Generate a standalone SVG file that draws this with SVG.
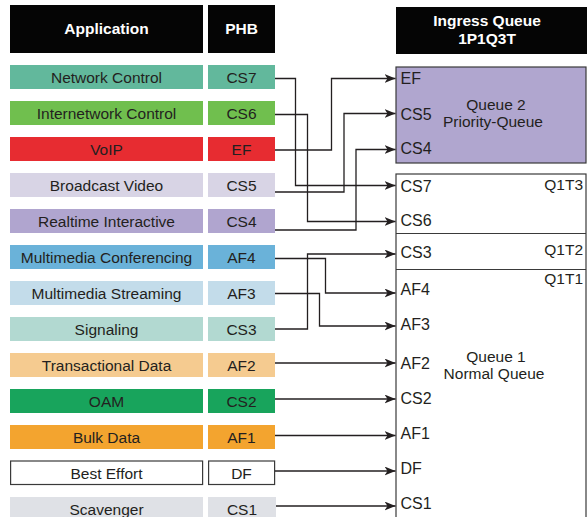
<svg xmlns="http://www.w3.org/2000/svg" width="588" height="517" viewBox="0 0 588 517">
  <style>
    text { font-family: "Liberation Sans", Arial, Helvetica, sans-serif; fill: #231f20; }
    .hdr { fill: #050505; }
    .hdrt { fill: #ffffff; font-weight: bold; font-size: 15.5px; text-anchor: middle; }
    .lbl { font-size: 15.5px; text-anchor: middle; }
    .ql { font-size: 16px; }
    .qr { font-size: 15.5px; text-anchor: end; }
    .qc { font-size: 15.5px; text-anchor: middle; }
    .box { stroke: #3a3a3a; stroke-width: 1.2; }
    .wire { fill: none; stroke: #231f20; stroke-width: 1.3; marker-end: url(#arrow); }
  </style>
  <defs>
    <marker id="arrow" markerUnits="userSpaceOnUse" markerWidth="11" markerHeight="9" viewBox="0 0 11 9" refX="11" refY="4.5" orient="auto">
      <path d="M0,0 L11,4.5 L0,9 L3,4.5 z" fill="#231f20"/>
    </marker>
  </defs>

  <rect width="588" height="517" fill="#ffffff"/>

  <!-- column headers -->
  <g id="hdr-application">
    <rect class="hdr" x="10" y="5" width="193" height="48"/>
    <text class="hdrt" x="106.5" y="34">Application</text>
  </g>
  <g id="hdr-phb">
    <rect class="hdr" x="208" y="5" width="67" height="48"/>
    <text class="hdrt" x="241.5" y="34">PHB</text>
  </g>
  <g id="hdr-ingress">
    <rect class="hdr" x="396" y="7" width="191" height="47"/>
    <text class="hdrt" x="487" y="26">Ingress Queue</text>
    <text class="hdrt" x="487" y="43.5">1P1Q3T</text>
  </g>

  <!-- application classes -->
  <g id="app-network-control"><rect x="10" y="65" width="193" height="24" fill="#62b89c"/><text class="lbl" x="106.5" y="82.5">Network Control</text></g>
  <g id="app-internetwork-control"><rect x="10" y="101" width="193" height="24" fill="#70bf4e"/><text class="lbl" x="106.5" y="118.5">Internetwork Control</text></g>
  <g id="app-voip"><rect x="10" y="137" width="193" height="24" fill="#e72c31"/><text class="lbl" x="106.5" y="154.5">VoIP</text></g>
  <g id="app-broadcast-video"><rect x="10" y="173" width="193" height="24" fill="#d8d4e5"/><text class="lbl" x="106.5" y="190.5">Broadcast Video</text></g>
  <g id="app-realtime-interactive"><rect x="10" y="209" width="193" height="24" fill="#b0a5cf"/><text class="lbl" x="106.5" y="226.5">Realtime Interactive</text></g>
  <g id="app-multimedia-conferencing"><rect x="10" y="245" width="193" height="24" fill="#6ab2d9"/><text class="lbl" x="106.5" y="262.5">Multimedia Conferencing</text></g>
  <g id="app-multimedia-streaming"><rect x="10" y="281" width="193" height="24" fill="#c3dcea"/><text class="lbl" x="106.5" y="298.5">Multimedia Streaming</text></g>
  <g id="app-signaling"><rect x="10" y="317" width="193" height="24" fill="#b2d9d1"/><text class="lbl" x="106.5" y="334.5">Signaling</text></g>
  <g id="app-transactional-data"><rect x="10" y="353" width="193" height="24" fill="#f5cb90"/><text class="lbl" x="106.5" y="370.5">Transactional Data</text></g>
  <g id="app-oam"><rect x="10" y="389" width="193" height="24" fill="#18a45c"/><text class="lbl" x="106.5" y="406.5">OAM</text></g>
  <g id="app-bulk-data"><rect x="10" y="425" width="193" height="24" fill="#f3a42f"/><text class="lbl" x="106.5" y="442.5">Bulk Data</text></g>
  <g id="app-best-effort"><rect class="box" x="10.6" y="461" width="192" height="23.5" fill="#ffffff"/><text class="lbl" x="106.5" y="478.5">Best Effort</text></g>
  <g id="app-scavenger"><rect x="10" y="497" width="193" height="24" fill="#dfe1e6"/><text class="lbl" x="106.5" y="514.5">Scavenger</text></g>

  <!-- PHB markings -->
  <g id="phb-cs7"><rect x="208" y="65" width="67" height="24" fill="#62b89c"/><text class="lbl" x="241.5" y="82.5">CS7</text></g>
  <g id="phb-cs6"><rect x="208" y="101" width="67" height="24" fill="#70bf4e"/><text class="lbl" x="241.5" y="118.5">CS6</text></g>
  <g id="phb-ef"><rect x="208" y="137" width="67" height="24" fill="#e72c31"/><text class="lbl" x="241.5" y="154.5">EF</text></g>
  <g id="phb-cs5"><rect x="208" y="173" width="67" height="24" fill="#d8d4e5"/><text class="lbl" x="241.5" y="190.5">CS5</text></g>
  <g id="phb-cs4"><rect x="208" y="209" width="67" height="24" fill="#b0a5cf"/><text class="lbl" x="241.5" y="226.5">CS4</text></g>
  <g id="phb-af4"><rect x="208" y="245" width="67" height="24" fill="#6ab2d9"/><text class="lbl" x="241.5" y="262.5">AF4</text></g>
  <g id="phb-af3"><rect x="208" y="281" width="67" height="24" fill="#c3dcea"/><text class="lbl" x="241.5" y="298.5">AF3</text></g>
  <g id="phb-cs3"><rect x="208" y="317" width="67" height="24" fill="#b2d9d1"/><text class="lbl" x="241.5" y="334.5">CS3</text></g>
  <g id="phb-af2"><rect x="208" y="353" width="67" height="24" fill="#f5cb90"/><text class="lbl" x="241.5" y="370.5">AF2</text></g>
  <g id="phb-cs2"><rect x="208" y="389" width="67" height="24" fill="#18a45c"/><text class="lbl" x="241.5" y="406.5">CS2</text></g>
  <g id="phb-af1"><rect x="208" y="425" width="67" height="24" fill="#f3a42f"/><text class="lbl" x="241.5" y="442.5">AF1</text></g>
  <g id="phb-df"><rect class="box" x="208.6" y="461" width="66" height="23.5" fill="#ffffff"/><text class="lbl" x="241.5" y="478.5">DF</text></g>
  <g id="phb-cs1"><rect x="208" y="497" width="68" height="24" fill="#dfe1e6"/><text class="lbl" x="242" y="514.5">CS1</text></g>

  <!-- Queue 2: priority queue -->
  <g id="queue2">
    <rect class="box" x="396" y="67" width="190" height="96" fill="#b0a6cf"/>
    <text class="ql" x="400.5" y="84">EF</text>
    <text class="ql" x="400.5" y="119.5">CS5</text>
    <text class="ql" x="400.5" y="154">CS4</text>
    <text class="qc" x="496" y="110">Queue 2</text>
    <text class="qc" x="493" y="126.5">Priority-Queue</text>
  </g>

  <!-- Queue 1: normal queue with three thresholds -->
  <g id="queue1">
    <rect class="box" x="396" y="174" width="190" height="360" fill="#ffffff"/>
    <line class="box" x1="396" y1="233.5" x2="586" y2="233.5"/>
    <line class="box" x1="396" y1="269.5" x2="586" y2="269.5"/>
    <text class="qr" x="583" y="190">Q1T3</text>
    <text class="qr" x="583" y="254.5">Q1T2</text>
    <text class="qr" x="583" y="284">Q1T1</text>
    <text class="ql" x="400.5" y="191.5">CS7</text>
    <text class="ql" x="400.5" y="226">CS6</text>
    <text class="ql" x="400.5" y="258">CS3</text>
    <text class="ql" x="400.5" y="294.5">AF4</text>
    <text class="ql" x="400.5" y="329.5">AF3</text>
    <text class="ql" x="400.5" y="368.5">AF2</text>
    <text class="ql" x="400.5" y="404">CS2</text>
    <text class="ql" x="400.5" y="439">AF1</text>
    <text class="ql" x="400.5" y="473.5">DF</text>
    <text class="ql" x="400.5" y="508.5">CS1</text>
    <text class="qc" x="496" y="361.5">Queue 1</text>
    <text class="qc" x="494" y="378.5">Normal Queue</text>
  </g>

  <!-- PHB to queue mappings -->
  <g id="connectors">
    <path class="wire" d="M275,78.5 H295.5 V185.5 H395.5"/>
    <path class="wire" d="M275,114.5 H307.5 V221.5 H395.5"/>
    <path class="wire" d="M275,150 H331.5 V78.5 H395.5"/>
    <path class="wire" d="M275,192 H344 V113.5 H395.5"/>
    <path class="wire" d="M275,230 H356 V149.5 H395.5"/>
    <path class="wire" d="M275,258.5 H325.5 V293 H395.5"/>
    <path class="wire" d="M275,293.5 H319.5 V326 H395.5"/>
    <path class="wire" d="M275,329 H307.5 V254 H395.5"/>
    <path class="wire" d="M275,363 H395.5"/>
    <path class="wire" d="M275,399 H395.5"/>
    <path class="wire" d="M275,435.5 H395.5"/>
    <path class="wire" d="M275,471 H395.5"/>
    <path class="wire" d="M276,506 H395.5"/>
  </g>
</svg>
